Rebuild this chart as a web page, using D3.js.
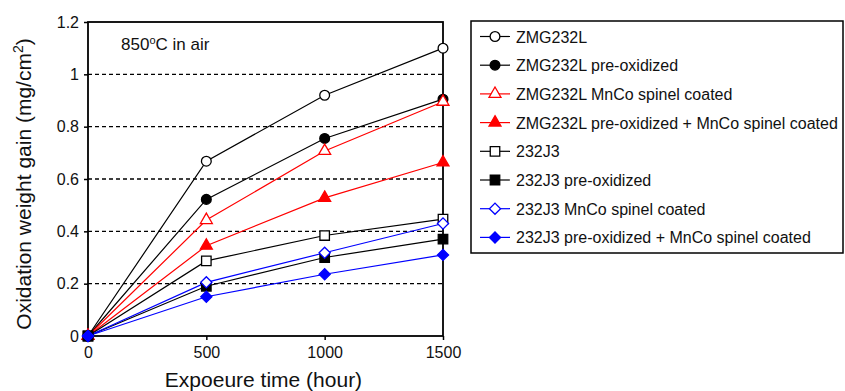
<!DOCTYPE html>
<html><head><meta charset="utf-8">
<script src="https://cdn.jsdelivr.net/npm/d3@7"></script>
<style>
body{margin:0;background:#fff;}
text{font-family:"Liberation Sans",Arial,sans-serif;fill:#111;}
</style></head>
<body><svg id="c" width="845" height="391"></svg>
<script>
const hours = [0, 500, 1000, 1500];
const seriesNames = [
  "ZMG232L",
  "ZMG232L pre-oxidized",
  "ZMG232L MnCo spinel coated",
  "ZMG232L pre-oxidized + MnCo spinel coated",
  "232J3",
  "232J3 pre-oxidized",
  "232J3 MnCo spinel coated",
  "232J3 pre-oxidized + MnCo spinel coated"
];
const zmg232l          = [0, 0.668, 0.92, 1.10];
const zmg232lPreox     = [0, 0.522, 0.755, 0.905];
const zmg232lMnCo      = [0, 0.443, 0.707, 0.895];
const zmg232lPreoxMnCo = [0, 0.345, 0.528, 0.663];
const j3               = [0, 0.287, 0.384, 0.447];
const j3Preox          = [0, 0.19, 0.30, 0.37];
const j3MnCo           = [0, 0.205, 0.318, 0.43];
const j3PreoxMnCo      = [0, 0.15, 0.236, 0.31];
const yTicks = [0, 0.2, 0.4, 0.6, 0.8, 1, 1.2];
const xTicks = [0, 500, 1000, 1500];

const seriesValues = [zmg232l, zmg232lPreox, zmg232lMnCo, zmg232lPreoxMnCo, j3, j3Preox, j3MnCo, j3PreoxMnCo];
const styles = [
  {color:"#000", sym:d3.symbolCircle, fill:false, size:75, rot:0},
  {color:"#000", sym:d3.symbolCircle, fill:true, size:75, rot:0},
  {color:"#ff0000", sym:d3.symbolTriangle, fill:false, size:62, rot:0},
  {color:"#ff0000", sym:d3.symbolTriangle, fill:true, size:62, rot:0},
  {color:"#000", sym:d3.symbolSquare, fill:false, size:90, rot:0},
  {color:"#000", sym:d3.symbolSquare, fill:true, size:90, rot:0},
  {color:"#0000ff", sym:d3.symbolSquare, fill:false, size:62, rot:45},
  {color:"#0000ff", sym:d3.symbolSquare, fill:true, size:62, rot:45}
];

const svg = d3.select("#c");
const L = 88, R = 443, T = 22, B = 336;
const x = d3.scaleLinear().domain([0,1500]).range([L,R]);
const y = d3.scaleLinear().domain([0,1.2]).range([B,T]);

// grid
svg.append("g").selectAll("line").data(yTicks.filter(v=>v>0 && v<1.2)).join("line")
  .attr("x1",L).attr("x2",R).attr("y1",d=>y(d)).attr("y2",d=>y(d))
  .attr("stroke","#000").attr("stroke-width",1.4).attr("stroke-dasharray","4,3");

// axes
const ya = svg.append("g").attr("transform",`translate(${L},0)`)
  .call(d3.axisLeft(y).tickValues(yTicks).tickSize(4).tickFormat(d=>String(+d.toFixed(1))));
ya.select(".domain").remove();
ya.selectAll("text").attr("font-size",16).attr("dx",-2);
const xa = svg.append("g").attr("transform",`translate(0,${B})`)
  .call(d3.axisBottom(x).tickValues(xTicks).tickSize(4).tickFormat(d=>String(d)));
xa.select(".domain").remove();
xa.selectAll("text").attr("font-size",16).attr("dy","0.95em");
svg.selectAll(".tick line").attr("stroke","#000").attr("stroke-width",1.5);

svg.append("rect").attr("x",L).attr("y",T).attr("width",R-L).attr("height",B-T)
  .attr("fill","none").attr("stroke","#000").attr("stroke-width",1.8);

// lines
const line = d3.line().x((d,i)=>x(hours[i])).y(d=>y(d));
seriesValues.forEach((vals,k)=>{
  const s = styles[k];
  svg.append("path").datum(vals).attr("d",line).attr("fill","none")
    .attr("stroke",s.color).attr("stroke-width",1.2);
});
seriesValues.forEach((vals,k)=>{
  const s = styles[k];
  svg.append("g").selectAll("path").data(vals).join("path")
    .attr("transform",(d,i)=>`translate(${x(hours[i])},${y(d)}) rotate(${s.rot})`)
    .attr("d",d3.symbol().type(s.sym).size(s.size))
    .attr("fill",s.fill?s.color:"#fff").attr("stroke",s.color).attr("stroke-width",1.3);
});

// annotation
const ann = svg.append("text").attr("x",121).attr("y",50).attr("font-size",17);
ann.append("tspan").text("850");
ann.append("tspan").attr("font-size",11).attr("dy",-6).text("o");
ann.append("tspan").attr("dy",6).text("C in air");

// axis titles
svg.append("text").attr("x",(L+R)/2 - 2).attr("y",387).attr("text-anchor","middle")
  .attr("font-size",21).text("Expoeure time (hour)");
const yt = svg.append("text").attr("transform",`translate(31,${184}) rotate(-90)`)
  .attr("text-anchor","middle").attr("font-size",21);
yt.append("tspan").text("Oxidation weight gain (mg/cm");
yt.append("tspan").attr("font-size",14).attr("dy",-8).text("2");
yt.append("tspan").attr("dy",8).text(")");

// legend
const lg = svg.append("g");
lg.append("rect").attr("x",471).attr("y",21).attr("width",372).attr("height",232)
  .attr("fill","#fff").attr("stroke","#000").attr("stroke-width",1.5);
seriesNames.forEach((name,k)=>{
  const s = styles[k];
  const yy = 36.5 + k*28.7;
  lg.append("line").attr("x1",480).attr("x2",510).attr("y1",yy).attr("y2",yy)
    .attr("stroke",s.color).attr("stroke-width",1.2);
  lg.append("path").attr("transform",`translate(495,${yy}) rotate(${s.rot})`)
    .attr("d",d3.symbol().type(s.sym).size(s.size))
    .attr("fill",s.fill?s.color:"#fff").attr("stroke",s.color).attr("stroke-width",1.3);
  lg.append("text").attr("x",516).attr("y",yy+6).attr("font-size",16).text(name);
});
</script></body></html>
